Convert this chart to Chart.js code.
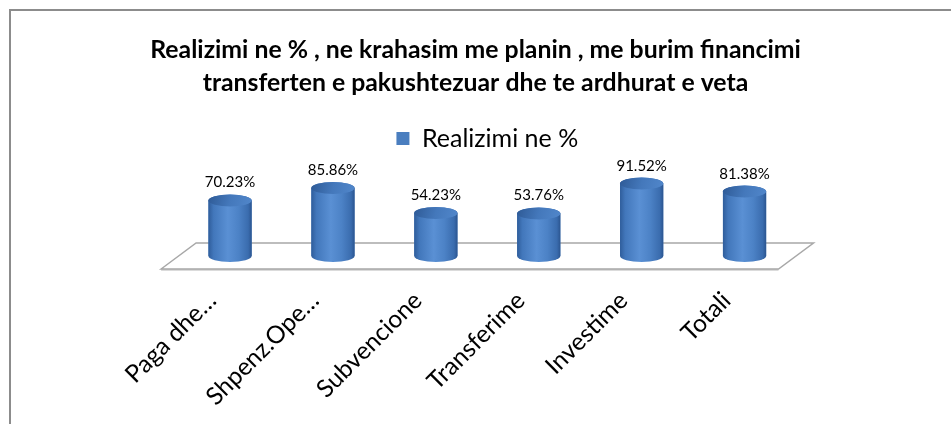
<!DOCTYPE html>
<html><head><meta charset="utf-8">
<script src="https://cdn.jsdelivr.net/npm/chart.js@4"></script>
<style>html,body{margin:0;padding:0;background:#fff;overflow:hidden}</style>
</head><body>
<canvas id="c" width="951" height="424"></canvas>
<script>
const categories = ["Paga dhe…", "Shpenz.Ope…", "Subvencione", "Transferime", "Investime", "Totali"];
const seriesName = "Realizimi ne %";
const realizimi = [70.23, 85.86, 54.23, 53.76, 91.52, 81.38];
const titleLines = ["Realizimi ne % , ne krahasim me planin , me burim financimi",
                    "transferten e pakushtezuar dhe te ardhurat e veta"];

const FONT = "Lato, 'Open Sans', sans-serif";

const framePlugin = {
  id: 'frame',
  beforeDraw(chart) {
    const ctx = chart.ctx;
    ctx.save();
    ctx.fillStyle = '#fff';
    ctx.fillRect(0, 0, chart.width, chart.height);
    ctx.strokeStyle = '#8c8c8c';
    ctx.lineWidth = 2;
    ctx.strokeRect(10, 10, chart.width + 50, chart.height + 50);
    ctx.restore();
  }
};

const floorPlugin = {
  id: 'floor',
  beforeDatasetsDraw(chart) {
    const ctx = chart.ctx;
    const a = chart.chartArea;
    const z = chart.scales.y.getPixelForValue(0);
    const d = 13, s = 17.5;
    ctx.save();
    ctx.beginPath();
    ctx.moveTo(a.left - s, z + d);
    ctx.lineTo(a.left + s, z - d);
    ctx.lineTo(a.right + s, z - d);
    ctx.lineTo(a.right - s, z + d);
    ctx.closePath();
    ctx.fillStyle = '#ffffff';
    ctx.fill();
    ctx.strokeStyle = '#a8a8a8';
    ctx.lineWidth = 1.5;
    ctx.stroke();
    ctx.beginPath();
    ctx.moveTo(a.left - s, z + d + 1);
    ctx.lineTo(a.right - s, z + d + 1);
    ctx.strokeStyle = 'rgba(160,160,160,0.5)';
    ctx.lineWidth = 1.5;
    ctx.stroke();
    ctx.restore();
  }
};

const cylinderPlugin = {
  id: 'cylinders',
  afterDatasetsDraw(chart) {
    const ctx = chart.ctx;
    const meta = chart.getDatasetMeta(0);
    ctx.save();
    meta.data.forEach((el, i) => {
      const x = el.x, top = el.y, base = el.base, rx = el.width / 2, ry = 6;
      const g = ctx.createLinearGradient(x - rx, 0, x + rx, 0);
      g.addColorStop(0, '#2f5d9b');
      g.addColorStop(0.12, '#4277bb');
      g.addColorStop(0.45, '#5a90d4');
      g.addColorStop(0.7, '#4c82c6');
      g.addColorStop(0.92, '#3a6cae');
      g.addColorStop(1, '#2b5590');
      ctx.beginPath();
      ctx.moveTo(x - rx, top);
      ctx.lineTo(x - rx, base);
      ctx.ellipse(x, base, rx, ry, 0, Math.PI, 0, true);
      ctx.lineTo(x + rx, top);
      ctx.ellipse(x, top, rx, ry, 0, 0, Math.PI, true);
      ctx.closePath();
      ctx.fillStyle = g;
      ctx.fill();
      const g2 = ctx.createLinearGradient(x - rx, top - ry, x + rx, top + ry);
      g2.addColorStop(0, '#2e5a96');
      g2.addColorStop(0.5, '#4478bb');
      g2.addColorStop(1, '#5187cb');
      ctx.beginPath();
      ctx.ellipse(x, top, rx, ry, 0, 0, Math.PI * 2);
      ctx.fillStyle = g2;
      ctx.fill();
      ctx.fillStyle = '#000';
      ctx.font = "15px " + FONT;
      ctx.textAlign = 'center';
      ctx.textBaseline = 'alphabetic';
      ctx.fillText(realizimi[i].toFixed(2) + '%', x, top - ry - 7);
    });
    ctx.restore();
  }
};

new Chart(document.getElementById('c'), {
  type: 'bar',
  data: {
    labels: categories,
    datasets: [{
      label: seriesName,
      data: realizimi,
      backgroundColor: '#4a7ebf',
      borderWidth: 0,
      categoryPercentage: 1,
      barPercentage: 0.42
    }]
  },
  options: {
    responsive: false,
    devicePixelRatio: 1,
    animation: false,
    events: [],
    layout: { padding: 0 },
    plugins: {
      title: {
        display: true,
        text: titleLines,
        color: '#000',
        font: { family: FONT, size: 24.8, weight: 'bold', lineHeight: 1.33 },
        padding: { top: 34, bottom: 18 }
      },
      legend: {
        display: true,
        fullSize: false,
        labels: {
          color: '#000',
          font: { family: FONT, size: 25 },
          boxWidth: 13,
          boxHeight: 13,
          padding: 8
        }
      },
      tooltip: { enabled: false }
    },
    scales: {
      x: {
        grid: { display: false, drawTicks: false },
        border: { display: false },
        ticks: {
          color: '#000',
          font: { family: FONT, size: 24.5 },
          minRotation: 45,
          maxRotation: 45,
          autoSkip: false,
          padding: 30,
          labelOffset: -18
        },
        afterFit(scale) { scale.height = 424 - 256; }
      },
      y: {
        display: true,
        position: 'left',
        min: 0,
        max: 120,
        grid: { display: false, drawTicks: false },
        border: { display: false },
        ticks: { display: false },
        afterFit(scale) { scale.width = 178.6; }
      },
      yRight: {
        display: true,
        position: 'right',
        min: 0,
        max: 1,
        grid: { display: false, drawTicks: false },
        border: { display: false },
        ticks: { display: false },
        afterFit(scale) { scale.width = 155; }
      }
    }
  },
  plugins: [framePlugin, floorPlugin, cylinderPlugin]
});
</script>
</body></html>
